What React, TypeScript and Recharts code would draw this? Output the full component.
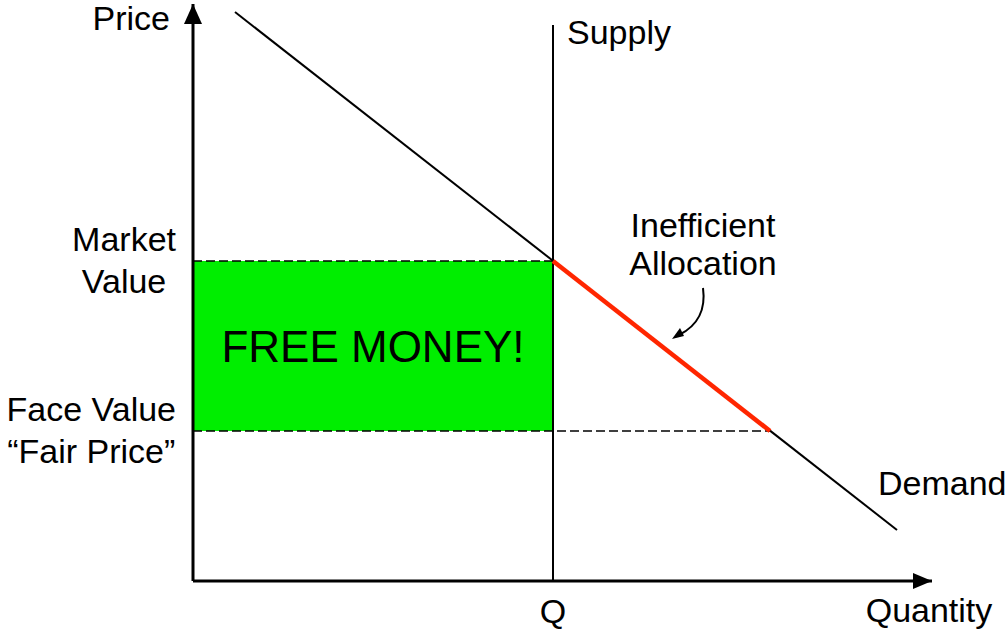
import React from 'react';
import {
  ComposedChart, Line, XAxis, YAxis, ReferenceArea, ReferenceLine, ReferenceDot, Label
} from 'recharts';

// chart values (quantity, price) in plot units
const demandCurve = [{ q: 42, p: 569 }, { q: 704, p: 51 }];
const supplyCurve = [{ q: 360, p: 0 }, { q: 360, p: 556 }];
const misallocated = [{ q: 360, p: 320 }, { q: 577, p: 150 }];

const MARKET_VALUE = 320;
const FACE_VALUE = 150;
const Q_SUPPLY = 360;
const Q_FACE = 577;
const Q_MAX = 739;
const P_MAX = 577;

const priceTicks = [FACE_VALUE, MARKET_VALUE];
const priceTickLabels = [['Face Value', '\u201CFair Price\u201D'], ['Market', 'Value']];
const quantityTicks = [Q_SUPPLY];
const quantityTickLabels = ['Q'];

const FONT = '"Liberation Sans", Helvetica, Arial, sans-serif';
const FS = 34;

let ctx: CanvasRenderingContext2D | null = null;
function textWidth(s: string, size: number) {
  if (!ctx) ctx = document.createElement('canvas').getContext('2d');
  if (!ctx) return s.length * size * 0.5;
  ctx.font = `${size}px "Liberation Sans"`;
  return ctx.measureText(s).width;
}

function PriceTick(props: any) {
  const { x, y, payload } = props;
  const idx = priceTicks.indexOf(payload.value);
  const lines = priceTickLabels[idx] ?? [];
  const maxW = Math.max(...lines.map(l => textWidth(l, FS)));
  const cx = x - 9 - maxW / 2;
  return (
    <text x={cx} y={y - 10} textAnchor="middle" fontFamily={FONT} fontSize={FS} fill="#000">
      {lines.map((l, i) => (
        <tspan key={i} x={cx} dy={i === 0 ? 0 : 42}>{l}</tspan>
      ))}
    </text>
  );
}

function QuantityTick(props: any) {
  const { x, y, payload } = props;
  const idx = quantityTicks.indexOf(payload.value);
  return (
    <text x={x} y={y + 34} textAnchor="middle" fontFamily={FONT} fontSize={FS} fill="#000">
      {quantityTickLabels[idx]}
    </text>
  );
}

const note = (lines: string[], dx: number, dy: number, anchor: 'start' | 'middle' | 'end') =>
  (props: any) => (
    <text x={props.cx + dx} y={props.cy + dy} textAnchor={anchor} fontFamily={FONT} fontSize={FS} fill="#000">
      {lines.map((l, i) => (
        <tspan key={i} x={props.cx + dx} dy={i === 0 ? 0 : 38}>{l}</tspan>
      ))}
    </text>
  );

const upArrow = (props: any) => (
  <g>
    <path d={`M${props.cx},${props.cy} L${props.cx - 9},${props.cy + 20} L${props.cx + 9},${props.cy + 20} Z`} fill="#000" />
    <text x={props.cx - 23} y={props.cy + 26} textAnchor="end" fontFamily={FONT} fontSize={FS} fill="#000">Price</text>
  </g>
);

const rightArrow = (props: any) => (
  <g>
    <path d={`M${props.cx},${props.cy} L${props.cx - 19},${props.cy - 8} L${props.cx - 19},${props.cy + 8} Z`} fill="#000" />
    <text x={props.cx - 3} y={props.cy + 41} textAnchor="middle" fontFamily={FONT} fontSize={FS} fill="#000">Quantity</text>
  </g>
);

const curvedPointer = (props: any) => {
  const { cx, cy } = props;
  const ex = cx - 24, ey = cy + 47;
  return (
    <g>
      <path d={`M${cx},${cy} C${cx + 3},${cy + 22} ${cx - 6},${cy + 38} ${ex},${ey}`} fill="none" stroke="#000" strokeWidth={2} />
      <path d={`M${ex - 7},${ey + 4} L${ex + 1},${ey - 7} L${ex + 5},${ey + 1} Z`} fill="#000" />
    </g>
  );
};

export default function App() {
  return (
    <div style={{ position: 'absolute', left: 0, top: 0, width: 1007, height: 634, background: '#fff' }}>
      <ComposedChart width={1007} height={634} margin={{ top: 4, right: 75, bottom: 0, left: 0 }}>
        <XAxis
          type="number" dataKey="q" domain={[0, Q_MAX]} ticks={quantityTicks}
          axisLine={{ stroke: '#000', strokeWidth: 3 }} tickLine={false} height={53}
          tick={<QuantityTick />} allowDataOverflow
        />
        <YAxis
          type="number" dataKey="p" domain={[0, P_MAX]} ticks={priceTicks}
          axisLine={{ stroke: '#000', strokeWidth: 3 }} tickLine={false} width={193}
          tick={<PriceTick />} allowDataOverflow
        />
        <ReferenceArea
          x1={0} x2={Q_SUPPLY} y1={FACE_VALUE} y2={MARKET_VALUE}
          fill="#00ee00" fillOpacity={1} stroke="none"
        >
          <Label position="center" fontFamily={FONT} fontSize={44} fill="#000" value="FREE MONEY!" />
        </ReferenceArea>
        <ReferenceLine
          segment={[{ x: 0, y: MARKET_VALUE }, { x: Q_SUPPLY, y: MARKET_VALUE }]}
          stroke="#000" strokeOpacity={1} strokeWidth={1.5} strokeDasharray="9 4"
        />
        <ReferenceLine
          segment={[{ x: 0, y: FACE_VALUE }, { x: Q_FACE, y: FACE_VALUE }]}
          stroke="#000" strokeOpacity={1} strokeWidth={1.5} strokeDasharray="9 4"
        />
        <Line data={demandCurve} dataKey="p" type="linear" stroke="#000" strokeWidth={2}
          dot={false} activeDot={false} isAnimationActive={false} />
        <Line data={supplyCurve} dataKey="p" type="linear" stroke="#000" strokeWidth={2}
          dot={false} activeDot={false} isAnimationActive={false} />
        <Line data={misallocated} dataKey="p" type="linear" stroke="#ff2600" strokeWidth={4.5}
          dot={false} activeDot={false} isAnimationActive={false} />
        <ReferenceDot x={0} y={P_MAX} r={0} ifOverflow="visible" shape={upArrow} />
        <ReferenceDot x={Q_MAX} y={0} r={0} ifOverflow="visible" shape={rightArrow} />
        <ReferenceDot x={Q_SUPPLY} y={556} r={0} ifOverflow="visible" shape={note(['Supply'], 14, 19, 'start')} />
        <ReferenceDot x={704} y={51} r={0} ifOverflow="visible" shape={note(['Demand'], -19, -35, 'start')} />
        <ReferenceDot x={510} y={293} r={0} ifOverflow="visible"
          shape={note(['Inefficient', 'Allocation'], 0, -51, 'middle')} />
        <ReferenceDot x={510} y={293} r={0} ifOverflow="visible" shape={curvedPointer} />
      </ComposedChart>
    </div>
  );
}
